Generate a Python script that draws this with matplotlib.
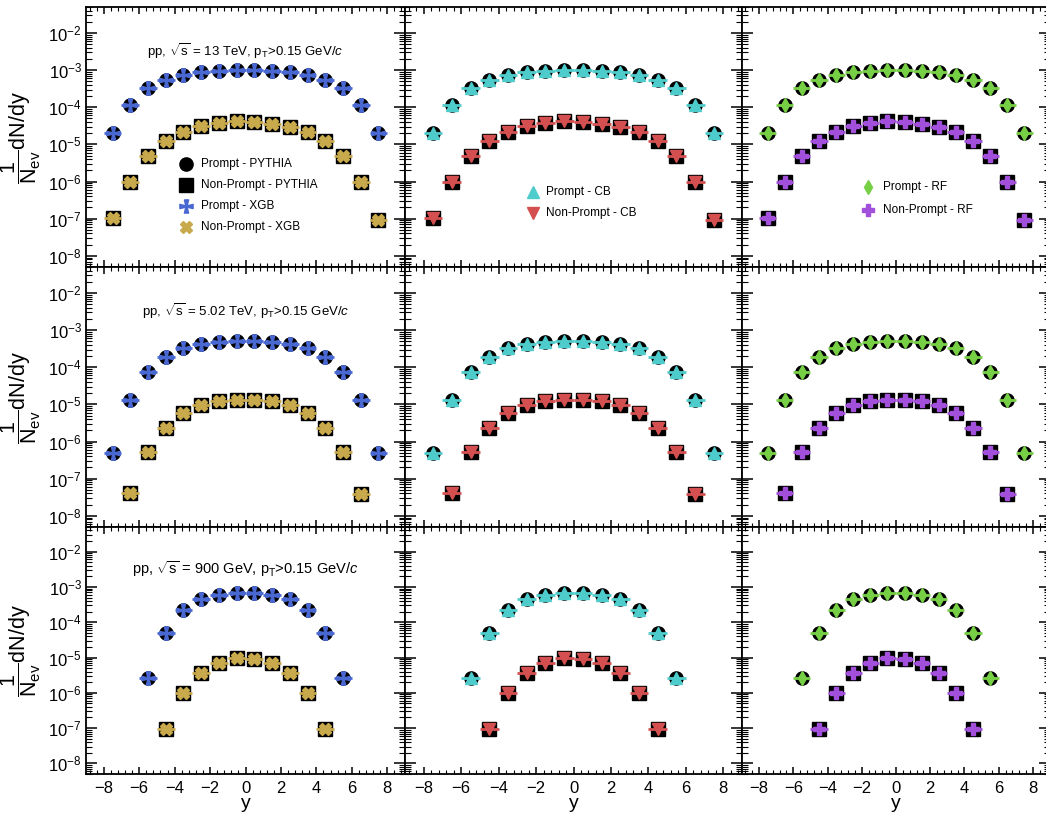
import matplotlib
matplotlib.use("Agg")
import matplotlib.pyplot as plt
from matplotlib.path import Path
from matplotlib.ticker import (LogLocator, FixedLocator, MultipleLocator,
                               AutoMinorLocator, NullFormatter,
                               LogFormatterSciNotation)

plt.rcParams['font.family'] = ['Liberation Sans', 'DejaVu Sans']
plt.rcParams['mathtext.fontset'] = 'custom'
plt.rcParams['mathtext.rm'] = 'Liberation Sans'
plt.rcParams['mathtext.it'] = 'Liberation Sans:italic'
plt.rcParams['mathtext.bf'] = 'Liberation Sans:bold'

# rapidity bin centres
y_16 = [-7.5, -6.5, -5.5, -4.5, -3.5, -2.5, -1.5, -0.5, 0.5, 1.5, 2.5, 3.5, 4.5, 5.5, 6.5, 7.5]
y_14 = [-6.5, -5.5, -4.5, -3.5, -2.5, -1.5, -0.5, 0.5, 1.5, 2.5, 3.5, 4.5, 5.5, 6.5]
y_12 = [-5.5, -4.5, -3.5, -2.5, -1.5, -0.5, 0.5, 1.5, 2.5, 3.5, 4.5, 5.5]
y_10 = [-4.5, -3.5, -2.5, -1.5, -0.5, 0.5, 1.5, 2.5, 3.5, 4.5]

# 1/N_ev dN/dy, pp 13 TeV
prompt_13 = [2.0e-5, 1.15e-4, 3.2e-4, 5.5e-4, 7.4e-4, 8.8e-4, 9.6e-4, 1.0e-3,
             1.0e-3, 9.6e-4, 8.8e-4, 7.4e-4, 5.5e-4, 3.2e-4, 1.15e-4, 2.0e-5]
nonprompt_13 = [1.05e-7, 1.0e-6, 4.8e-6, 1.2e-5, 2.1e-5, 3.1e-5, 3.8e-5, 4.2e-5,
                4.0e-5, 3.6e-5, 3.0e-5, 2.2e-5, 1.2e-5, 4.8e-6, 1.0e-6, 9.5e-8]
# pp 5.02 TeV
prompt_502 = [4.9e-7, 1.3e-5, 7.3e-5, 1.9e-4, 3.2e-4, 4.1e-4, 4.7e-4, 5.0e-4,
              5.0e-4, 4.7e-4, 4.1e-4, 3.2e-4, 1.9e-4, 7.3e-5, 1.3e-5, 4.9e-7]
nonprompt_502 = [4.1e-8, 5.1e-7, 2.3e-6, 5.7e-6, 9.6e-6, 1.23e-5, 1.35e-5,
                 1.35e-5, 1.2e-5, 9.6e-6, 5.7e-6, 2.3e-6, 5.1e-7, 3.8e-8]
# pp 900 GeV
prompt_900 = [2.6e-6, 5.0e-5, 2.2e-4, 4.5e-4, 6.1e-4, 6.9e-4,
              6.9e-4, 6.1e-4, 4.5e-4, 2.2e-4, 5.0e-5, 2.7e-6]
nonprompt_900 = [9.6e-8, 1.0e-6, 3.6e-6, 7.2e-6, 9.4e-6,
                 9.0e-6, 7.2e-6, 3.6e-6, 1.0e-6, 9.2e-8]

# labelled decades on the y axis
decades = [1e-8, 1e-7, 1e-6, 1e-5, 1e-4, 1e-3, 1e-2]

energies = [
    ("13 TeV", y_16, prompt_13, y_16, nonprompt_13),
    ("5.02 TeV", y_16, prompt_502, y_14, nonprompt_502),
    ("900 GeV", y_12, prompt_900, y_10, nonprompt_900),
]

# maltese-style cross used for the XGB prompt points
maltese = Path([(-0.32, 1), (0.32, 1), (0.1, 0.1), (1, 0.32), (1, -0.32),
                (0.1, -0.1), (0.32, -1), (-0.32, -1), (-0.1, -0.1),
                (-1, -0.32), (-1, 0.32), (-0.1, 0.1), (-0.32, 1)])

models = [
    # (name, prompt marker, prompt colour, ms, non-prompt marker, colour, ms)
    ("XGB", maltese, "#4a68d2", 9.5, "X", "#c8a94c", 9.0),
    ("CB", "^", "#4ecccc", 8.5, "v", "#d45050", 8.5),
    ("RF", "d", "#76cf45", 7.5, "P", "#a24fdb", 9.0),
]

W, H = 1046, 814
col_px = [(86, 405), (405, 742), (742, 1050)]
row_px = [(7, 267), (267, 527), (527, 774)]

fig = plt.figure(figsize=(W / 100, H / 100), dpi=100)

axes = []
for r, (top, bot) in enumerate(row_px):
    row_axes = []
    for c, (lft, rgt) in enumerate(col_px):
        ax = fig.add_axes([lft / W, 1 - bot / H, (rgt - lft) / W, (bot - top) / H])
        row_axes.append(ax)
    axes.append(row_axes)

for r, (label, yp, prompt, ynp, nonprompt) in enumerate(energies):
    for c, (name, pm, pc, pms, nm, nc, nms) in enumerate(models):
        ax = axes[r][c]
        # PYTHIA reference underneath
        ax.plot(yp, prompt, 'o', color='black', ms=9.5, zorder=2)
        ax.plot(ynp, nonprompt, 's', color='black', ms=9.5, zorder=2)
        # model predictions with bin-width bars
        ax.errorbar(yp, prompt, xerr=0.5, fmt='none', ecolor=pc, elinewidth=2.0,
                    capsize=0, zorder=3)
        ax.plot(yp, prompt, linestyle='none', marker=pm, color=pc, ms=pms,
                mec=pc, zorder=4)
        ax.errorbar(ynp, nonprompt, xerr=0.5, fmt='none', ecolor=nc, elinewidth=2.0,
                    capsize=0, zorder=3)
        ax.plot(ynp, nonprompt, linestyle='none', marker=nm, color=nc, ms=nms,
                mec=nc, zorder=4)

        ax.set_yscale('log')
        ax.set_xlim(-9, 9)
        ax.set_ylim(5e-9, 5e-2)
        ax.xaxis.set_major_locator(MultipleLocator(2))
        ax.xaxis.set_minor_locator(AutoMinorLocator(5))
        ax.yaxis.set_major_locator(FixedLocator(decades))
        ax.yaxis.set_minor_locator(LogLocator(base=10, subs=range(2, 10), numticks=20))
        ax.yaxis.set_minor_formatter(NullFormatter())
        ax.yaxis.set_major_formatter(LogFormatterSciNotation())
        ax.tick_params(which='major', direction='in', top=True, right=True,
                       width=1.1, labelsize=12)
        ax.tick_params(which='minor', direction='in', top=True, right=True,
                       width=0.8)
        ax.tick_params(axis='x', which='major', length=4.8, pad=5)
        ax.tick_params(axis='x', which='minor', length=2.6)
        ax.tick_params(axis='y', which='major', length=8, pad=3)
        ax.tick_params(axis='y', which='minor', length=4.2)
        for sp in ax.spines.values():
            sp.set_linewidth(1.3)

        if c != 0:
            ax.tick_params(axis='y', labelleft=False)
        else:
            ax.set_ylabel(r"$\dfrac{1}{\mathrm{N}_{\mathrm{ev}}}$dN/dy", fontsize=15.5)
            ax.yaxis.set_label_coords(-0.135, 0.5)
            fs = 10.5 if r == 2 else 9.5
            ax.text(0.5, 0.83, r"pp, $\sqrt{\mathrm{s}}$ = " + label +
                    r", p$_{\mathrm{T}}$>0.15 GeV/$c$",
                    transform=ax.transAxes, ha='center', va='center', fontsize=fs)
        if r != 2:
            ax.tick_params(axis='x', labelbottom=False)
        else:
            ax.set_xlabel("y", fontsize=14, labelpad=-1)

# keys in the top row
def draw_key(ax, entries, xm, xt, y0, dy):
    for i, (kw, text) in enumerate(entries):
        yy = y0 - i * dy
        ax.plot([xm], [yy], transform=ax.transAxes, linestyle='none',
                clip_on=False, **kw)
        ax.text(xt, yy, text, transform=ax.transAxes, ha='left', va='center',
                fontsize=8.5)

draw_key(axes[0][0], [
    (dict(marker='o', color='black', ms=9.5), "Prompt - PYTHIA"),
    (dict(marker='s', color='black', ms=9.5), "Non-Prompt - PYTHIA"),
    (dict(marker=maltese, color=models[0][2], ms=9.5), "Prompt - XGB"),
    (dict(marker='X', color=models[0][5], ms=9.0), "Non-Prompt - XGB"),
], 0.313, 0.361, 0.396, 0.0808)

draw_key(axes[0][1], [
    (dict(marker='^', color=models[1][2], ms=8.5), "Prompt - CB"),
    (dict(marker='v', color=models[1][5], ms=8.5), "Non-Prompt - CB"),
], 0.380, 0.418, 0.288, 0.0808)

draw_key(axes[0][2], [
    (dict(marker='d', color=models[2][2], ms=7.5), "Prompt - RF"),
    (dict(marker='P', color=models[2][5], ms=9.0), "Non-Prompt - RF"),
], 0.409, 0.458, 0.308, 0.088)

fig.savefig("out.png", dpi=100)
